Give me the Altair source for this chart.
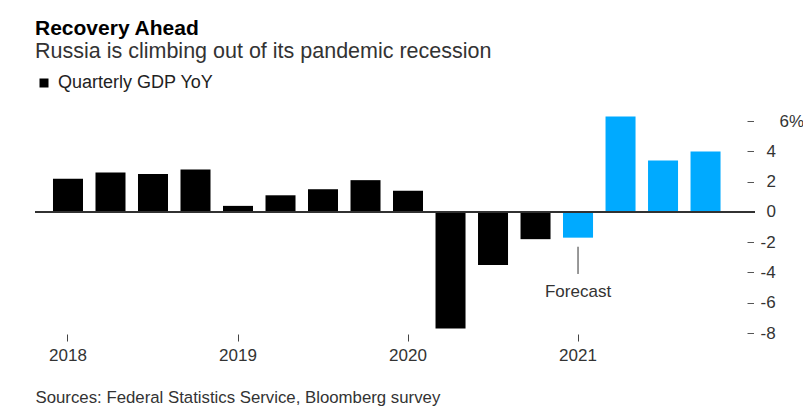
import altair as alt
import pandas as pd

# ---- data ----
quarters = ["2018 Q1", "2018 Q2", "2018 Q3", "2018 Q4",
            "2019 Q1", "2019 Q2", "2019 Q3", "2019 Q4",
            "2020 Q1", "2020 Q2", "2020 Q3", "2020 Q4",
            "2021 Q1", "2021 Q2", "2021 Q3", "2021 Q4"]
gdp_yoy = [2.2, 2.6, 2.5, 2.8,
           0.4, 1.1, 1.5, 2.1,
           1.4, -7.7, -3.5, -1.8,
           -1.7, 6.3, 3.4, 4.0]
series = ["Quarterly GDP YoY"] * 12 + ["Forecast"] * 4
series_names = ["Quarterly GDP YoY", "Forecast"]
series_colors = ["#000000", "#00AAFF"]

year_ticks = ["2018 Q1", "2019 Q1", "2020 Q1", "2021 Q1"]
y_ticks = [-8, -6, -4, -2, 0, 2, 4, 6]

title_text = "Recovery Ahead"
subtitle_text = "Russia is climbing out of its pandemic recession"
source_text = "Sources: Federal Statistics Service, Bloomberg survey"

forecast_quarter = ["2021 Q1"]
forecast_label = ["Forecast"]
forecast_line_top = [-2.3]
forecast_line_bottom = [-4.1]
forecast_text_y = [-5.6]

df = pd.DataFrame({"quarter": quarters, "gdp": gdp_yoy, "series": series})
ann = pd.DataFrame({"quarter": forecast_quarter, "y1": forecast_line_top,
                    "y2": forecast_line_bottom, "ty": forecast_text_y,
                    "label": forecast_label})

FONT = "Liberation Sans, Arial, Helvetica, sans-serif"

x_enc = alt.X(
    "quarter:N",
    scale=alt.Scale(domain=quarters, paddingInner=0.294, paddingOuter=0.617, align=0.343),
    axis=alt.Axis(values=year_ticks, labelExpr="slice(datum.value, 0, 4)",
                  bandPosition=0.5, labelAngle=0, domain=False, grid=False,
                  tickSize=7, tickColor="#444", offset=1, labelPadding=6,
                  labelFontSize=17, labelColor="#333", labelFont=FONT,
                  title=source_text, titleX=0, titleY=68, titleAlign="left",
                  titleAnchor="start", titleBaseline="alphabetic", titleFontSize=16.8,
                  titleFontWeight="normal", titleColor="#333", titleFont=FONT),
)

label_expr = "datum.value == 6 ? '6%' : toString(datum.value)"
label_pad = {"condition": [{"test": "datum.value == 6", "value": 25.5},
                           {"test": "datum.value >= 0", "value": 12.5}],
             "value": 6.5}


def y_enc(field):
    return alt.Y(
        field,
        scale=alt.Scale(domain=[-8, 7], nice=False, zero=False),
        axis=alt.Axis(orient="right", values=y_ticks, tickCount=20, labelExpr=label_expr,
                      offset=-8, tickSize=6.5, tickColor="#555", domain=False, grid=False,
                      labelPadding=label_pad, labelAlign="left", labelBaseline="middle",
                      labelOverlap=False, labelFontSize=17, labelColor="#333",
                      labelFont=FONT, title=None),
    )


bars = alt.Chart(df).mark_bar().encode(
    x=x_enc,
    y=y_enc("gdp:Q"),
    y2=alt.datum(0),
    color=alt.Color("series:N",
                    scale=alt.Scale(domain=series_names, range=series_colors),
                    legend=alt.Legend(values=["Quarterly GDP YoY"], title=None, orient="none",
                                      legendX=0, legendY=-32, symbolType="square",
                                      symbolSize=81, symbolStrokeWidth=0, labelOffset=5,
                                      labelFontSize=18, labelColor="#222", labelFont=FONT,
                                      padding=0)),
)

zero_rule = alt.Chart(df).mark_rule(color="#333", strokeWidth=1).encode(y=alt.datum(0))

ann_rule = alt.Chart(ann).mark_rule(color="#333", strokeWidth=1).encode(
    x=x_enc, y=y_enc("y1:Q"), y2="y2:Q")

ann_text = alt.Chart(ann).mark_text(font=FONT, fontSize=17, color="#333",
                                    align="center", baseline="alphabetic").encode(
    x=x_enc, y=y_enc("ty:Q"), text="label:N")

chart = alt.layer(bars, zero_rule, ann_rule, ann_text).properties(
    width=720,
    height=227,
    autosize=alt.AutoSizeParams(type="none"),
    padding={"left": 27, "top": 98, "right": 48, "bottom": 73},
    background="white",
    title=alt.TitleParams(text=title_text, subtitle=subtitle_text, anchor="start",
                          frame="group", font=FONT, fontSize=21, fontWeight="bold",
                          color="#000", subtitleFont=FONT, subtitleFontSize=21.5,
                          subtitleColor="#333", subtitlePadding=2, offset=12),
).configure_view(stroke=None)

chart.save("out.html", embed_options={"renderer": "svg", "actions": False})
